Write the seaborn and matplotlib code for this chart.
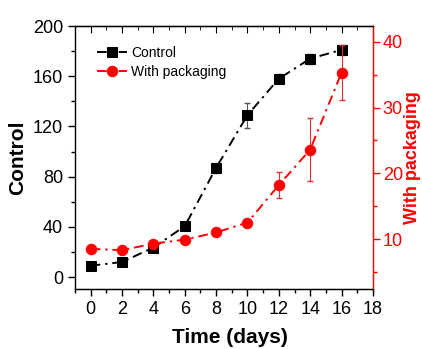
import numpy as np
import pandas as pd
import matplotlib
matplotlib.use('Agg')
import matplotlib.pyplot as plt
import seaborn as sns
from matplotlib.ticker import MultipleLocator

# data
days = [0, 2, 4, 6, 8, 10, 12, 14, 16]
control = [9, 12, 23.5, 40.5, 87, 129, 158, 174, 181]
control_err = [2, 2, 2, 2.5, 4, 10, 3.5, 4, 4]
packaging = [8.5, 8.3, 9.3, 9.9, 11.0, 12.5, 18.2, 23.6, 35.3]
packaging_err = [0.4, 0.4, 0.4, 0.4, 0.4, 0.5, 2.0, 4.8, 4.2]

sns.set_style('ticks', {'text.color': 'black', 'xtick.color': 'black',
                        'ytick.color': 'black', 'axes.labelcolor': 'black',
                        'axes.edgecolor': 'black'})
plt.rcParams['font.family'] = ['Liberation Sans', 'DejaVu Sans']

RED = '#ff0000'
df = pd.DataFrame({'days': days, 'control': control, 'packaging': packaging})

fig = plt.figure(figsize=(4.22, 3.49), dpi=100)
ax = fig.add_axes([0.1777, 0.172, 0.706, 0.7535])
ax2 = ax.twinx()

ax.errorbar(days, control, yerr=control_err, fmt='none', ecolor='#555555',
            elinewidth=0.8, capsize=2.5, zorder=1)
sns.lineplot(data=df, x='days', y='control', ax=ax, color='black', marker='s',
             markersize=6.5, markeredgecolor='black', linestyle=(0, (5, 2.5, 1.2, 2.5)),
             linewidth=1.4, label='Control', legend=False, zorder=3)

ax2.errorbar(days, packaging, yerr=packaging_err, fmt='none', ecolor='#e03030',
             elinewidth=0.8, capsize=2.5, zorder=1)
sns.lineplot(data=df, x='days', y='packaging', ax=ax2, color=RED, marker='o',
             markersize=7.5, markeredgecolor=RED, linestyle=(0, (5, 2.5, 1.2, 2.5)),
             linewidth=1.4, label='With packaging', legend=False, zorder=3)

ax.set_xlim(-1, 18)
ax.set_ylim(-9.5, 200)
ax2.set_ylim(2.4, 42.4)

ax.xaxis.set_major_locator(MultipleLocator(2))
ax.xaxis.set_minor_locator(MultipleLocator(1))
ax.yaxis.set_major_locator(MultipleLocator(40))
ax.yaxis.set_minor_locator(MultipleLocator(20))
ax2.yaxis.set_major_locator(MultipleLocator(10))
ax2.yaxis.set_minor_locator(MultipleLocator(5))

ax.tick_params(axis='both', which='major', labelsize=13, length=5, width=1,
               direction='out', top=False, colors='black')
ax.tick_params(axis='both', which='minor', length=3, width=1, direction='out')

sec = ax.secondary_xaxis('top')
sec.xaxis.set_major_locator(MultipleLocator(2))
sec.xaxis.set_minor_locator(MultipleLocator(1))
sec.tick_params(axis='x', which='major', direction='in', length=5, labeltop=False)
sec.tick_params(axis='x', which='minor', direction='in', length=3)

ax2.tick_params(axis='y', which='major', labelsize=13, length=5, width=1,
                colors=RED, direction='out', pad=2)
ax2.tick_params(axis='y', which='minor', length=3, width=1, colors=RED,
                direction='out')

for s in ['left', 'bottom', 'top']:
    ax.spines[s].set_linewidth(1)
    ax.spines[s].set_color('black')
ax2.spines['right'].set_color(RED)
ax2.spines['right'].set_linewidth(1)
ax2.spines['left'].set_visible(False)

ax.set_xlabel('Time (days)', fontsize=15, fontweight='bold')
ax.xaxis.set_label_coords(0.52, -0.148)
ax.set_ylabel('Control', fontsize=15, fontweight='bold')
ax.yaxis.set_label_coords(-0.161, 0.5)
ax2.set_ylabel('With packaging', fontsize=13, fontweight='bold', color=RED)
ax2.yaxis.set_label_coords(1.104, 0.5)

h1, l1 = ax.get_legend_handles_labels()
h2, l2 = ax2.get_legend_handles_labels()
ax2.legend(h1 + h2, l1 + l2, loc='upper left', bbox_to_anchor=(0.045, 0.955),
           frameon=False, fontsize=10, handlelength=2.2, handletextpad=0.3,
           borderaxespad=0.2, labelspacing=0.35)

fig.savefig('out.png', dpi=100)
